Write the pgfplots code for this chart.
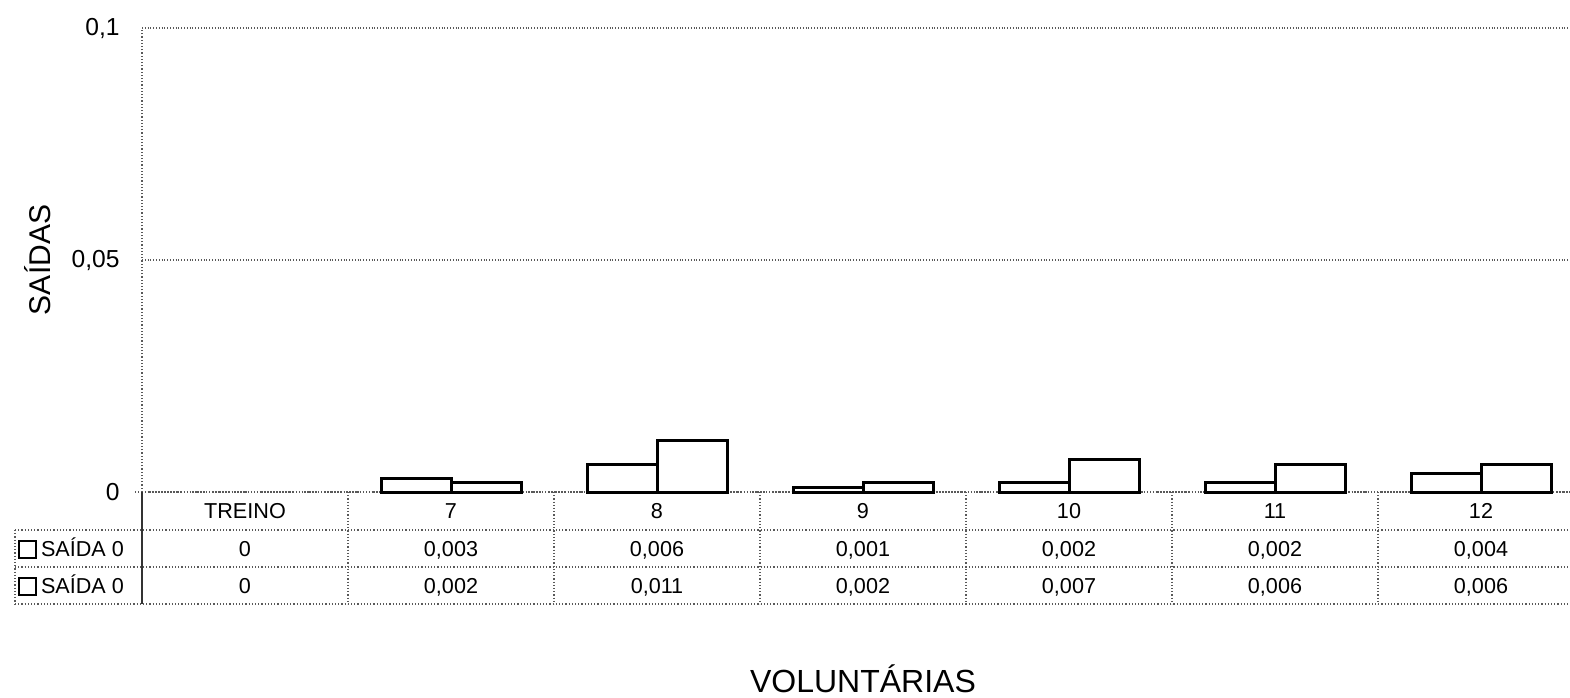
\documentclass[border=0pt]{standalone}
\usepackage{pgfplots}
\pgfplotsset{compat=1.18}
\usepackage{fontspec}
\setmainfont{Liberation Sans}
\newcommand{\legbox}{{\setlength\fboxsep{0pt}\setlength\fboxrule{1pt}\fbox{\rule{0pt}{7.5pt}\rule{7.5pt}{0pt}}}}
\tikzset{tline/.style={draw=gray!70!black, densely dotted, line width=0.6pt}}
\begin{document}
\begin{tikzpicture}
\begin{axis}[
  at={(71pt,102.5pt)}, anchor=south west,
  width=721pt, height=232pt, scale only axis,
  xmin=-0.5, xmax=6.5, ymin=0, ymax=0.1,
  ybar=0pt, bar width=35pt,
  xtick=\empty,
  major tick length=0pt,
  ytick={0,0.05,0.1}, yticklabels={0,{0,05},{0,1}},
  yticklabel style={font=\fontsize{12.3}{14}\selectfont, inner sep=0pt, xshift=-11pt},
  ymajorgrids, grid style={tline},
  axis x line*=bottom, axis y line*=left,
  axis line style={tline},
  clip=false,
]
\addplot[draw=black, fill=white, line width=1.5pt] coordinates {(1,0.003) (2,0.006) (3,0.001) (4,0.002) (5,0.002) (6,0.004)};
\addplot[draw=black, fill=white, line width=1.5pt] coordinates {(1,0.002) (2,0.011) (3,0.002) (4,0.007) (5,0.006) (6,0.006)};
% table rows
\begin{scope}[every node/.style={font=\fontsize{10.8}{12}\selectfont, anchor=base, inner sep=0pt}]
\node at (axis cs:0,0) [yshift=-13.4pt] {TREINO};
\node at (axis cs:1,0) [yshift=-13.4pt] {7};
\node at (axis cs:2,0) [yshift=-13.4pt] {8};
\node at (axis cs:3,0) [yshift=-13.4pt] {9};
\node at (axis cs:4,0) [yshift=-13.4pt] {10};
\node at (axis cs:5,0) [yshift=-13.4pt] {11};
\node at (axis cs:6,0) [yshift=-13.4pt] {12};
\node at (axis cs:0,0) [yshift=-32.4pt] {0};
\node at (axis cs:1,0) [yshift=-32.4pt] {0,003};
\node at (axis cs:2,0) [yshift=-32.4pt] {0,006};
\node at (axis cs:3,0) [yshift=-32.4pt] {0,001};
\node at (axis cs:4,0) [yshift=-32.4pt] {0,002};
\node at (axis cs:5,0) [yshift=-32.4pt] {0,002};
\node at (axis cs:6,0) [yshift=-32.4pt] {0,004};
\node at (axis cs:0,0) [yshift=-50.9pt] {0};
\node at (axis cs:1,0) [yshift=-50.9pt] {0,002};
\node at (axis cs:2,0) [yshift=-50.9pt] {0,011};
\node at (axis cs:3,0) [yshift=-50.9pt] {0,002};
\node at (axis cs:4,0) [yshift=-50.9pt] {0,007};
\node at (axis cs:5,0) [yshift=-50.9pt] {0,006};
\node at (axis cs:6,0) [yshift=-50.9pt] {0,006};
\end{scope}
\end{axis}
% table grid
\draw[tline] (67.5pt,102.5pt) -- (71pt,102.5pt);
\draw[tline] (7.5pt,83.5pt) -- (790pt,83.5pt);
\draw[tline] (7.5pt,65pt) -- (790pt,65pt);
\draw[tline] (7.5pt,46.5pt) -- (790pt,46.5pt);
\draw[tline] (7.5pt,83.5pt) -- (7.5pt,46.5pt);
\draw[draw=black!80, line width=0.6pt] (71pt,102.5pt) -- (71pt,46.5pt);
\foreach \xx in {174,277,380,483,586,689} {
  \draw[tline] (\xx pt,102.5pt) -- (\xx pt,46.5pt);
}
\node[anchor=base west, inner sep=0pt, font=\fontsize{10.8}{12}\selectfont] at (9pt,70.1pt) {\legbox\,SAÍDA 0};
\node[anchor=base west, inner sep=0pt, font=\fontsize{10.8}{12}\selectfont] at (9pt,51.6pt) {\legbox\,SAÍDA 0};
% axis titles
\node[rotate=90, anchor=base, inner sep=0pt, font=\fontsize{15}{18}\selectfont] at (25pt,218.5pt) {SAÍDAS};
\node[anchor=base, inner sep=0pt, font=\fontsize{16}{19}\selectfont] at (431.5pt,2.5pt) {VOLUNTÁRIAS};
\pgfresetboundingbox
\path[use as bounding box] (0,0) rectangle (785pt,348.5pt);
\end{tikzpicture}
\end{document}
